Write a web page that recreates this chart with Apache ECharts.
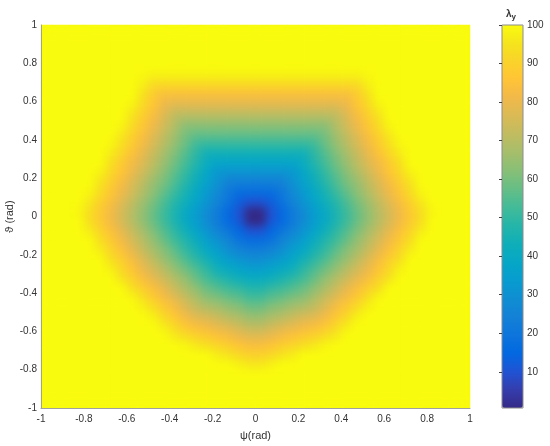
<!DOCTYPE html>
<html>
<head>
<meta charset="utf-8">
<script src="https://cdn.jsdelivr.net/npm/echarts@6/dist/echarts.min.js"></script>
<style>html,body{margin:0;padding:0;background:#fff}#chart{width:550px;height:446px;position:relative}</style>
</head>
<body>
<div id="chart"></div>
<script>
// Cell centres of the sampled grid (rad)
const psiCenters = [-0.975,-0.925,-0.875,-0.825,-0.775,-0.725,-0.675,-0.625,-0.575,-0.525,-0.475,-0.425,-0.375,-0.325,-0.275,-0.225,-0.175,-0.125,-0.075,-0.025,0.025,0.075,0.125,0.175,0.225,0.275,0.325,0.375,0.425,0.475,0.525,0.575,0.625,0.675,0.725,0.775,0.825,0.875,0.925,0.975];
// rows from top (theta = 0.975) to bottom (theta = -0.975)
const thetaCenters = [0.975,0.925,0.875,0.825,0.775,0.725,0.675,0.625,0.575,0.525,0.475,0.425,0.375,0.325,0.275,0.225,0.175,0.125,0.075,0.025,-0.025,-0.075,-0.125,-0.175,-0.225,-0.275,-0.325,-0.375,-0.425,-0.475,-0.525,-0.575,-0.625,-0.675,-0.725,-0.775,-0.825,-0.875,-0.925,-0.975];

// lambda_y, one row per theta value (top to bottom)
const lambdaY = [
[100,100,100,100,100,100,100,100,100,100,100,100,100,100,100,100,100,100,100,100,100,100,100,100,100,100,100,100,100,100,100,100,100,100,100,100,100,100,100,100],
[100,100,100,100,100,100,100,100,100,100,100,100,100,100,100,100,100,100,100,100,100,100,100,100,100,100,100,100,100,100,100,100,100,100,100,100,100,100,100,100],
[100,100,100,100,100,100,100,100,100,100,100,100,100,100,100,100,100,100,100,100,100,100,100,100,100,100,100,100,100,100,100,100,100,100,100,100,100,100,100,100],
[100,100,100,100,100,100,100,100,100,100,100,100,100,100,100,100,100,100,100,100,100,100,100,100,100,100,100,100,100,100,100,100,100,100,100,100,100,100,100,100],
[100,100,100,100,100,100,100,100,100,100,100,100,100,100,100,100,100,100,100,100,100,100,100,100,100,100,100,100,100,100,100,100,100,100,100,100,100,100,100,100],
[100,100,100,100,100,100,100,100,100,99,97,97,97,97,97,97,97,97,97,97,97,97,97,97,97,97,97,97,97,97,99,100,100,100,100,100,100,100,100,100],
[100,100,100,100,100,100,100,100,100,97,91,90,90,90,90,90,90,90,90,90,90,90,90,90,90,90,90,90,90,91,97,100,100,100,100,100,100,100,100,100],
[100,100,100,100,100,100,100,100,100,94,88,83,83,83,83,83,83,83,83,83,83,83,83,83,83,83,83,83,83,88,94,100,100,100,100,100,100,100,100,100],
[100,100,100,100,100,100,100,100,98,92,86,80,77,77,77,77,77,77,77,77,77,77,77,77,77,77,77,77,80,86,92,98,100,100,100,100,100,100,100,100],
[100,100,100,100,100,100,100,100,95,89,83,77,71,70,70,70,70,70,70,70,70,70,70,70,70,70,70,71,77,83,89,95,100,100,100,100,100,100,100,100],
[100,100,100,100,100,100,100,99,93,87,81,75,69,63,63,63,63,63,63,63,63,63,63,63,63,63,63,69,75,81,87,93,99,100,100,100,100,100,100,100],
[100,100,100,100,100,100,100,96,90,84,78,72,66,60,57,57,57,57,57,57,57,57,57,57,57,57,60,66,72,78,84,90,96,100,100,100,100,100,100,100],
[100,100,100,100,100,100,99,94,88,82,76,70,64,58,52,50,50,50,50,50,50,50,50,50,50,52,58,64,70,76,82,88,94,99,100,100,100,100,100,100],
[100,100,100,100,100,100,97,91,85,79,73,67,61,55,49,43,43,43,43,43,43,43,43,43,43,49,55,61,67,73,79,85,91,97,100,100,100,100,100,100],
[100,100,100,100,100,100,94,88,82,77,71,65,59,53,47,41,37,37,37,37,37,37,37,37,41,47,53,59,65,71,77,82,88,94,100,100,100,100,100,100],
[100,100,100,100,100,98,92,86,80,74,68,62,56,50,44,38,32,30,30,30,30,30,30,32,38,44,50,56,62,68,74,80,86,92,98,100,100,100,100,100],
[100,100,100,100,100,95,89,83,77,71,65,60,54,48,42,36,30,24,23,23,23,23,24,30,36,42,48,54,60,65,71,77,83,89,95,100,100,100,100,100],
[100,100,100,100,99,93,87,81,75,69,63,57,51,45,39,33,27,21,17,17,17,17,21,27,33,39,45,51,57,63,69,75,81,87,93,99,100,100,100,100],
[100,100,100,100,96,90,84,78,72,66,60,54,48,43,37,31,25,19,13,10,10,13,19,25,31,37,43,48,54,60,66,72,78,84,90,96,100,100,100,100],
[100,100,100,99,94,88,82,76,70,64,58,52,46,40,34,28,22,16,10,0.6,0.6,10,16,22,28,34,40,46,52,58,64,70,76,82,88,94,99,100,100,100],
[100,100,100,100,94,88,82,76,70,64,58,52,46,40,34,28,22,16,11,0.6,0.6,11,16,22,28,34,40,46,52,58,64,70,76,82,88,94,100,100,100,100],
[100,100,100,100,97,91,85,79,73,67,61,55,49,43,37,31,25,20,15,10,10,15,20,25,31,37,43,49,55,61,67,73,79,85,91,97,100,100,100,100],
[100,100,100,100,100,94,88,82,76,70,64,58,52,47,41,35,30,25,19,17,17,19,25,30,35,41,47,52,58,64,70,76,82,88,94,100,100,100,100,100],
[100,100,100,100,100,97,91,85,79,73,67,62,56,50,45,39,34,29,25,23,23,25,29,34,39,45,50,56,62,67,73,79,85,91,97,100,100,100,100,100],
[100,100,100,100,100,100,94,89,83,77,71,65,60,54,49,44,39,34,31,29,29,31,34,39,44,49,54,60,65,71,77,83,89,94,100,100,100,100,100,100],
[100,100,100,100,100,100,98,92,86,80,75,70,64,59,54,49,43,40,37,35,35,37,40,43,49,54,59,64,70,75,80,86,92,98,100,100,100,100,100,100],
[100,100,100,100,100,100,100,95,90,84,79,74,69,64,58,53,49,46,43,41,41,43,46,49,53,58,64,69,74,79,84,90,95,100,100,100,100,100,100,100],
[100,100,100,100,100,100,100,100,94,89,84,79,73,68,63,58,55,52,50,47,47,50,52,55,58,63,68,73,79,84,89,94,100,100,100,100,100,100,100,100],
[100,100,100,100,100,100,100,100,99,94,88,83,78,73,68,63,61,58,56,53,53,56,58,61,63,68,73,78,83,88,94,99,100,100,100,100,100,100,100,100],
[100,100,100,100,100,100,100,100,100,98,93,88,83,77,72,69,67,64,62,59,59,62,64,67,69,72,77,83,88,93,98,100,100,100,100,100,100,100,100,100],
[100,100,100,100,100,100,100,100,100,100,98,92,87,82,78,76,73,70,68,65,65,68,70,73,76,78,82,87,92,98,100,100,100,100,100,100,100,100,100,100],
[100,100,100,100,100,100,100,100,100,100,100,97,92,87,84,82,79,77,74,71,71,74,77,79,82,84,87,92,97,100,100,100,100,100,100,100,100,100,100,100],
[100,100,100,100,100,100,100,100,100,100,100,100,96,93,90,88,85,83,80,78,78,80,83,85,88,90,93,96,100,100,100,100,100,100,100,100,100,100,100,100],
[100,100,100,100,100,100,100,100,100,100,100,100,100,99,96,94,91,89,86,84,84,86,89,91,94,96,99,100,100,100,100,100,100,100,100,100,100,100,100,100],
[100,100,100,100,100,100,100,100,100,100,100,100,100,100,100,100,97,95,92,90,90,92,95,97,100,100,100,100,100,100,100,100,100,100,100,100,100,100,100,100],
[100,100,100,100,100,100,100,100,100,100,100,100,100,100,100,100,100,100,98,96,96,98,100,100,100,100,100,100,100,100,100,100,100,100,100,100,100,100,100,100],
[100,100,100,100,100,100,100,100,100,100,100,100,100,100,100,100,100,100,100,100,100,100,100,100,100,100,100,100,100,100,100,100,100,100,100,100,100,100,100,100],
[100,100,100,100,100,100,100,100,100,100,100,100,100,100,100,100,100,100,100,100,100,100,100,100,100,100,100,100,100,100,100,100,100,100,100,100,100,100,100,100],
[100,100,100,100,100,100,100,100,100,100,100,100,100,100,100,100,100,100,100,100,100,100,100,100,100,100,100,100,100,100,100,100,100,100,100,100,100,100,100,100],
[100,100,100,100,100,100,100,100,100,100,100,100,100,100,100,100,100,100,100,100,100,100,100,100,100,100,100,100,100,100,100,100,100,100,100,100,100,100,100,100]
];

const axisTicks = [-1,-0.8,-0.6,-0.4,-0.2,0,0.2,0.4,0.6,0.8,1];
const colorbarTicks = [10,20,30,40,50,60,70,80,90,100];
const colorbarMin = 0.6;
const colorbarMax = 100;

const parula = ['#352a87','#353dad','#2053d4','#0268e1','#0d75dc','#1481d6','#108ed2','#079ccf','#06a7c6','#0faeb9','#25b5a9','#42bb98','#65be86','#87bf77','#a5be6b','#c0bc60','#d9ba56','#f1b94a','#ffc337','#fad32a','#f5e41d','#f9fb0e'];

const cells = [];
lambdaY.forEach((row, r) => {
  row.forEach((v, c) => { cells.push([c, r, v]); });
});

const FONT = 'Liberation Sans, Arial, sans-serif';
const TXT = '#333333';
const AXC = '#a0a0a0';

const chart = echarts.init(document.getElementById('chart'), null, {renderer: 'canvas'});
chart.setOption({
  animation: false,
  backgroundColor: '#ffffff',
  textStyle: {fontFamily: FONT},
  title: {
    text: '{l|λ}{s|y}',
    left: 506, top: 7,
    padding: 0,
    textStyle: {
      rich: {
        l: {fontSize: 10, color: TXT, fontFamily: FONT},
        s: {fontSize: 8, color: TXT, fontFamily: FONT, padding: [6, 0, 0, 0]}
      }
    }
  },
  grid: [
    {left: 41, top: 25, width: 429, height: 383, containLabel: false, outerBoundsMode: 'none'},
    {left: 502, top: 25, width: 21, height: 383, show: true, z: 10, borderColor: '#8c8c8c', borderWidth: 1, backgroundColor: 'transparent', containLabel: false, outerBoundsMode: 'none'}
  ],
  xAxis: [
    {type: 'category', gridIndex: 0, data: psiCenters, show: false},
    {type: 'value', gridIndex: 0, min: -1, max: 1, interval: 0.2, position: 'bottom', z: 10, zlevel: 2,
     axisLine: {show: true, lineStyle: {color: AXC, width: 1}},
     axisTick: {show: false},
     splitLine: {show: false},
     axisLabel: {fontSize: 10, color: TXT, margin: 6, fontFamily: FONT},
     name: 'ψ(rad)', nameLocation: 'middle', nameGap: 22,
     nameTextStyle: {fontSize: 11, color: TXT, fontFamily: FONT}},
    {type: 'value', gridIndex: 1, min: 0, max: 1, show: false}
  ],
  yAxis: [
    {type: 'category', gridIndex: 0, data: thetaCenters, inverse: true, show: false},
    {type: 'value', gridIndex: 0, min: -1, max: 1, interval: 0.2, position: 'left', z: 10, zlevel: 2,
     axisLine: {show: true, lineStyle: {color: AXC, width: 1}},
     axisTick: {show: false},
     splitLine: {show: false},
     axisLabel: {fontSize: 10, color: TXT, margin: 4, fontFamily: FONT},
     name: 'ϑ (rad)', nameLocation: 'middle', nameGap: 26, nameMoveOverlap: false,
     nameTextStyle: {fontSize: 11, color: TXT, fontFamily: FONT}},
    {type: 'value', gridIndex: 1, min: colorbarMin, max: colorbarMax, position: 'right', z: 10,
     axisLine: {show: false},
     axisTick: {show: true, inside: true, length: 3, lineStyle: {color: '#404040'}, customValues: colorbarTicks},
     splitLine: {show: false},
     axisLabel: {fontSize: 10, color: TXT, margin: 4, fontFamily: FONT, customValues: colorbarTicks}}
  ],
  visualMap: {
    type: 'continuous',
    seriesIndex: [0, 1],
    min: colorbarMin, max: colorbarMax,
    calculable: false,
    hoverLink: false,
    show: true,
    left: 502, top: 25,
    padding: 0,
    itemWidth: 21, itemHeight: 383,
    inRange: {color: parula},
    z: 4
  },
  series: [{
    type: 'heatmap',
    xAxisIndex: 0, yAxisIndex: 0,
    data: cells,
    progressive: 0,
    emphasis: {disabled: true},
    itemStyle: {borderWidth: 0}
  }, {
    // same cells on their own layer, displayed with smooth (interpolated-looking) shading
    type: 'heatmap',
    xAxisIndex: 0, yAxisIndex: 0,
    data: cells,
    zlevel: 1,
    progressive: 0,
    emphasis: {disabled: true},
    itemStyle: {borderWidth: 0}
  }]
});

// MATLAB-like "shading interp": soften the cell layer, clipped to the plot box
(function () {
  let dom = null;
  try {
    const layer = chart.getZr().painter.getLayer(1);
    dom = layer && layer.dom;
  } catch (e) { dom = null; }
  if (!dom) {
    const cvs = document.querySelectorAll('#chart canvas');
    if (cvs.length > 1) dom = cvs[1];
  }
  if (dom) {
    dom.style.filter = 'blur(4px)';
    dom.style.clipPath = 'inset(25px 80px 38px 41px)';
  }
})();
</script>
</body>
</html>
